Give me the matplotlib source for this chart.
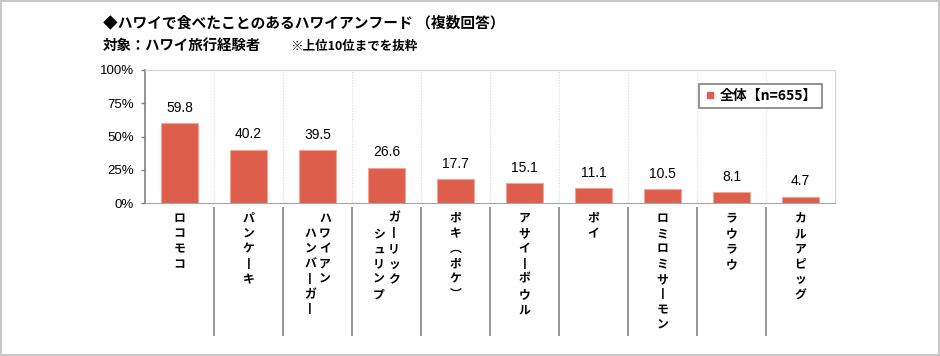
import numpy as np
from matplotlib import pyplot as plt
from matplotlib.lines import Line2D
from matplotlib.patches import Rectangle

plt.rcParams['font.family'] = ['Noto Sans CJK JP', 'DejaVu Sans']

# data
foods = ["ロコモコ", "パンケーキ", "ハワイアン\n\u3000ハンバーガー", "ガーリック\n\u3000シュリンプ",
         "ポキ（ポケ）", "アサイーボウル", "ポイ", "ロミロミサーモン", "ラウラウ", "カルアピッグ"]
values = [59.8, 40.2, 39.5, 26.6, 17.7, 15.1, 11.1, 10.5, 8.1, 4.7]
yticks = [0, 25, 50, 75, 100]
legend_label = "全体【n=655】"

bar_color = '#DD5E4B'

fig = plt.figure(figsize=(9.4, 3.56), dpi=100)
ax = fig.add_axes([145 / 940, 1 - 203 / 356, 690 / 940, 133 / 356])

x = np.arange(len(foods))
ax.bar(x, values, width=0.55, color=bar_color, edgecolor='#F2A596', linewidth=0.8, zorder=3)
for xi, v in zip(x, values):
    ax.annotate(f"{v:.1f}", (xi, v), xytext=(0, 11), textcoords='offset points',
                ha='center', va='center', fontsize=10, family='Liberation Sans')

ax.set_xlim(-0.5, len(foods) - 0.5)
ax.set_ylim(0, 100)
ax.set_yticks(yticks)
ax.set_yticklabels([f"{t}%" for t in yticks], family='Liberation Sans', fontsize=9.5)
ax.set_xticks([])
ax.tick_params(axis='y', length=3, width=1, color='#808080', pad=5)

for s in ['top', 'right']:
    ax.spines[s].set_color('#D4D4D4')
ax.spines['left'].set_color('#808080')
ax.spines['bottom'].set_color('#A6A6A6')
ax.spines['left'].set_linewidth(1.2)

# dotted separators inside plot
for b in x[:-1] + 0.5:
    ax.axvline(b, color='#D9D9D9', linestyle=(0, (1, 1.5)), linewidth=0.8, zorder=1)

# solid separators below axis
ax.vlines(x[:-1] + 0.5, -1.0, -0.03, transform=ax.get_xaxis_transform(),
          colors='#8C8C8C', linewidth=1.3, clip_on=False)

# vertical category labels, one glyph per text (vertical forms for bar and brackets)
vert_forms = {"（": "\uFE35", "）": "\uFE36", "ー": "丨"}
step = 11.0
for xi, label in zip(x, foods):
    cols = label.split("\n")
    n = len(cols)
    for ci, col in enumerate(cols):
        # first column is the rightmost one
        dx = 0 if n == 1 else (5.4 if ci == 0 else -5.4)
        for ri, ch in enumerate(col):
            if ch == "\u3000":
                continue
            ax.annotate(vert_forms.get(ch, ch), (xi, 0), xycoords=('data', 'axes fraction'),
                        xytext=(dx, -11 - ri * step), textcoords='offset points',
                        ha='center', va='center',
                        fontsize=8.5, fontweight='bold', annotation_clip=False)

handle = Line2D([], [], marker='s', linestyle='', color=bar_color, markersize=4, label=legend_label)
leg = ax.legend(handles=[handle], loc='upper right', bbox_to_anchor=(0.991, 0.947),
                handlelength=0.8, handletextpad=0.3, borderpad=0.35,
                fancybox=False, edgecolor='#7F7F7F', framealpha=1,
                prop={'weight': 'bold', 'size': 10})
leg.get_frame().set_linewidth(1.2)

fig.text(103 / 940, 1 - 22 / 356, "◆ハワイで食べたことのあるハワイアンフード （複数回答）",
         fontsize=10.6, fontweight='bold', va='center')
fig.text(103 / 940, 1 - 46 / 356, "対象：ハワイ旅行経験者", fontsize=10.4, fontweight='bold', va='center')
fig.text(290 / 940, 1 - 46 / 356, "※上位10位までを抜粋", fontsize=9, fontweight='bold', va='center')

fig.patches.append(Rectangle((0.0008, 0.002), 0.9984, 0.996, transform=fig.transFigure,
                             fill=False, edgecolor='#C8C8C8', linewidth=1.5))

fig.savefig("out.png", dpi=100)
